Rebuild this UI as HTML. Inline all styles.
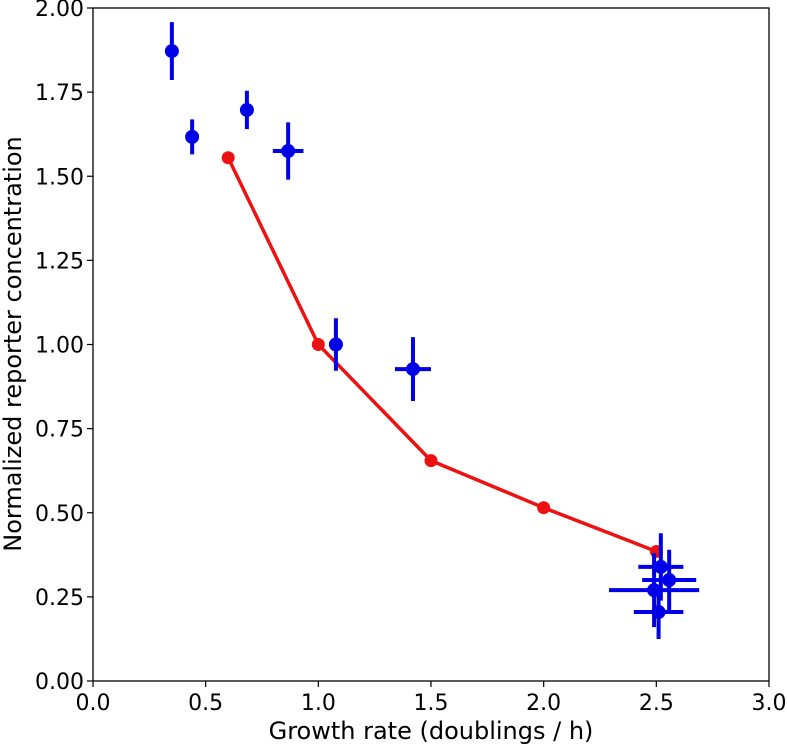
<!DOCTYPE html>
<html><head><meta charset="utf-8"><style>
html,body{margin:0;padding:0;background:#fff;}
svg{display:block;font-family:"DejaVu Sans","Liberation Sans",sans-serif;}
</style></head><body>
<svg id="chart" width="787" height="744" viewBox="0 0 787 744" xmlns="http://www.w3.org/2000/svg">
<g id="grid"></g>
<g id="marks"></g>
<rect x="93" y="8" width="676" height="673" fill="none" stroke="#000" stroke-width="1.3"/>
<text x="431" y="739" font-size="24" text-anchor="middle">Growth rate (doublings / h)</text>
<text transform="translate(21,344) rotate(-90)" font-size="24" text-anchor="middle">Normalized reporter concentration</text>
</svg>
<script>
const xTicks=[0,0.5,1,1.5,2,2.5,3];
const xTickLabels=["0.0","0.5","1.0","1.5","2.0","2.5","3.0"];
const yTicks=[0,0.25,0.5,0.75,1,1.25,1.5,1.75,2];
const yTickLabels=["0.00","0.25","0.50","0.75","1.00","1.25","1.50","1.75","2.00"];
const modelX=[0.6,1.0,1.5,2.0,2.5];
const modelY=[1.555,1.0,0.655,0.515,0.385];
const dataX=[0.35,0.44,0.683,0.866,1.078,1.42,2.52,2.557,2.49,2.51];
const dataY=[1.872,1.617,1.697,1.575,1.0,0.927,0.339,0.30,0.27,0.205];
const dataXErr=[0.0,0.03,0.0,0.068,0.03,0.08,0.1,0.12,0.2,0.11];
const dataYErr=[0.086,0.052,0.057,0.085,0.078,0.095,0.1,0.09,0.11,0.08];
const X0=93,X1=769,Y0=681,Y1=8;
const sx=v=>X0+(v-0)/(3-0)*(X1-X0);
const sy=v=>Y0-(v-0)/(2-0)*(Y0-Y1);
const NS="http://www.w3.org/2000/svg";
const grid=document.getElementById('grid'),marks=document.getElementById('marks');
function mk(tag,attrs,parent){const e=document.createElementNS(NS,tag);for(const k in attrs)e.setAttribute(k,attrs[k]);parent.appendChild(e);return e;}
xTicks.forEach((t,i)=>{
  const l=mk('line',{x1:sx(t),x2:sx(t),y1:Y0,y2:Y0+6,stroke:'#000','stroke-width':1.2},grid);
  
  
  const tx=mk('text',{x:sx(t),y:Y0+29,'font-size':22,'text-anchor':'middle'},grid);
  tx.textContent=xTickLabels[i];
  
  
});
yTicks.forEach((t,i)=>{
  const l=mk('line',{x1:X0-6,x2:X0,y1:sy(t),y2:sy(t),stroke:'#000','stroke-width':1.2},grid);
  
  
  const tx=mk('text',{x:X0-9,y:sy(t)+8,'font-size':22,'text-anchor':'end'},grid);
  tx.textContent=yTickLabels[i];
  
  
});
const pl=mk('polyline',{points:modelX.map((v,i)=>sx(v)+','+sy(modelY[i])).join(' '),fill:'none',stroke:'#ee1111','stroke-width':3.5},marks);


modelX.forEach((v,i)=>{
  const c=mk('circle',{cx:sx(v),cy:sy(modelY[i]),r:6.5,fill:'#ee1111'},marks);
  
  
});
dataX.forEach((v,i)=>{
  const g=mk('g',{},marks);
  
  
  const col='#0000e6';
  if(dataXErr[i]>0) mk('line',{x1:sx(v-dataXErr[i]),x2:sx(v+dataXErr[i]),y1:sy(dataY[i]),y2:sy(dataY[i]),stroke:col,'stroke-width':4},g);
  mk('line',{x1:sx(v),x2:sx(v),y1:sy(dataY[i]-dataYErr[i]),y2:sy(dataY[i]+dataYErr[i]),stroke:col,'stroke-width':4},g);
  mk('circle',{cx:sx(v),cy:sy(dataY[i]),r:7,fill:col},g);
});
</script>
</body></html>
